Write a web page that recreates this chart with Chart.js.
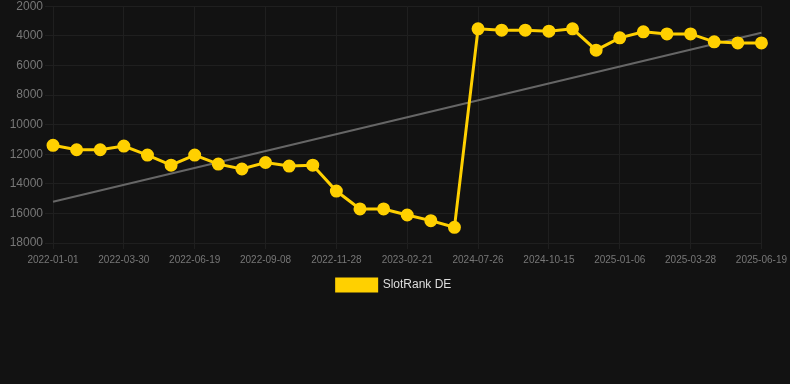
<!DOCTYPE html>
<html>
<head>
<meta charset="utf-8">
<script src="https://cdn.jsdelivr.net/npm/chart.js@4.4.1/dist/chart.umd.min.js"></script>
<style>
html,body{margin:0;padding:0;background:#121212;}
#wrap{width:790px;height:384px;overflow:hidden;position:relative;}
#c{position:absolute;left:0;top:-3px;}
</style>
</head>
<body>
<div id="wrap"><canvas id="c" width="792" height="387"></canvas></div>
<script>
const labels = ["2022-01-01","2022-01-30","2022-02-28","2022-03-30","2022-04-26","2022-05-23","2022-06-19","2022-07-16","2022-08-12","2022-09-08","2022-10-05","2022-11-01","2022-11-28","2022-12-25","2023-01-24","2023-02-21","2023-03-20","2023-04-16","2024-07-26","2024-08-22","2024-09-18","2024-10-15","2024-11-11","2024-12-09","2025-01-06","2025-02-02","2025-03-01","2025-03-28","2025-04-24","2025-05-22","2025-06-19"];
const rankDE = [11400,11700,11700,11450,12060,12740,12060,12670,13000,12560,12800,12740,14490,15700,15700,16110,16490,16940,3530,3620,3620,3690,3530,4970,4140,3730,3870,3870,4410,4480,4480];
const trend = [15210,null,null,null,null,null,null,null,null,null,null,null,null,null,null,null,null,null,null,null,null,null,null,null,null,null,null,null,null,null,3800];
const yTicks = [2000,4000,6000,8000,10000,12000,14000,16000,18000];

new Chart(document.getElementById('c'), {
  type: 'line',
  data: {
    labels: labels,
    datasets: [
      {
        label: 'SlotRank DE',
        data: rankDE,
        borderColor: '#FFD000',
        backgroundColor: '#FFD000',
        borderWidth: 3,
        pointRadius: 5,
        pointHoverRadius: 5,
        pointBackgroundColor: '#FFD000',
        pointBorderColor: '#FFD000',
        tension: 0
      },
      {
        label: 'trend',
        data: trend,
        borderColor: '#666666',
        backgroundColor: '#666666',
        borderWidth: 2,
        pointRadius: 0,
        spanGaps: true,
        tension: 0
      }
    ]
  },
  options: {
    responsive: false,
    animation: false,
    layout: { padding: { top: -12, right: 4, bottom: 83, left: 0 } },
    scales: {
      x: {
        grid: { color: '#1f1f1f', tickLength: 6 },
        border: { color: '#1f1f1f' },
        ticks: {
          autoSkip: false,
          maxRotation: 0,
          padding: 5,
          color: '#777777',
          font: { family: 'Liberation Sans, Arial, sans-serif', size: 10 },
          callback: function(v, i){ return i % 3 === 0 ? labels[i] : null; }
        }
      },
      y: {
        reverse: true,
        min: yTicks[0],
        max: yTicks[yTicks.length-1],
        grid: { color: '#1f1f1f', tickLength: 8 },
        border: { color: '#1f1f1f' },
        afterBuildTicks: function(axis){ axis.ticks = yTicks.map(v => ({value: v})); },
        afterFit: function(axis){ axis.width = 53; },
        ticks: {
          color: '#777777',
          font: { family: 'Liberation Sans, Arial, sans-serif', size: 12 },
          padding: 2,
          callback: function(v){ return String(v); }
        }
      }
    },
    plugins: {
      legend: {
        position: 'bottom',
        labels: {
          color: '#dddddd',
          boxWidth: 40,
          boxHeight: 12,
          padding: 8,
          font: { family: 'Liberation Sans, Arial, sans-serif', size: 12 },
          filter: function(item){ return item.text !== 'trend'; }
        }
      },
      tooltip: { enabled: false }
    }
  }
});
</script>
</body>
</html>
